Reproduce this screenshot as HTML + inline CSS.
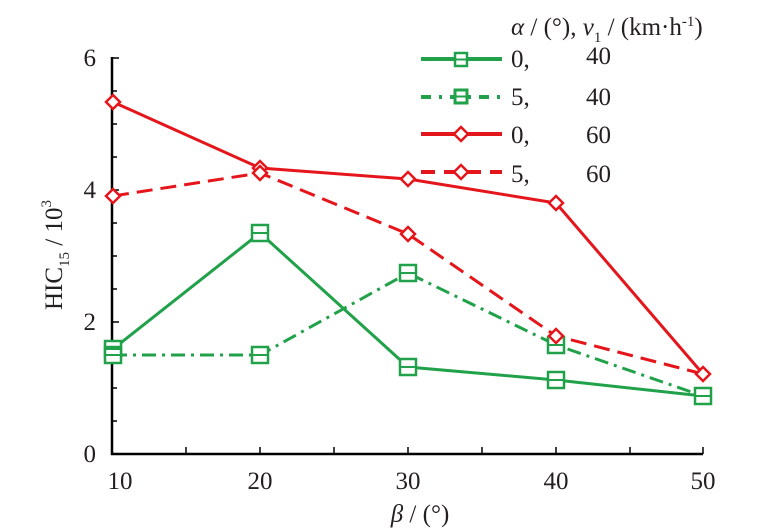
<!DOCTYPE html>
<html><head><meta charset="utf-8"><style>body{margin:0;background:#fff}svg{display:block}text{font-family:"Liberation Serif",serif;fill:#231f20}</style></head><body>
<svg width="763" height="530" viewBox="0 0 763 530">
<g stroke="#000" stroke-width="2.5" fill="none">
<path d="M112,57 V454 H703"/>
</g>
<g stroke="#000" stroke-width="1.5">
<path d="M112,58h7M112,91h5M112,124h5M112,157h5M112,190h7M112,223h5M112,256h5M112,289h5M112,322h7M112,355h5M112,388h5M112,421h5"/>
<path d="M186,454v-7M260,454v-7M334,454v-7M408,454v-7M482,454v-7M556,454v-7M630,454v-7M703,454v-7"/>
</g>
<g font-size="25" text-anchor="end">
<text x="96" y="66">6</text><text x="96" y="198">4</text><text x="96" y="330">2</text><text x="96" y="462">0</text>
</g>
<g font-size="25" text-anchor="middle">
<text x="120" y="489">10</text><text x="260" y="489">20</text><text x="408" y="489">30</text><text x="556" y="489">40</text><text x="703" y="489">50</text>
<text x="420" y="522"><tspan font-style="italic">β</tspan> / (°)</text>
</g>
<text transform="translate(62,255) rotate(-90)" font-size="25" text-anchor="middle">HIC<tspan font-size="15" dy="7">15</tspan><tspan dy="-7"> / 10</tspan><tspan font-size="15" dy="-11">3</tspan></text>
<!-- series -->
<polyline points="113,349 260,233 408,367 556,380 703,396" fill="none" stroke="#21a24a" stroke-width="3"/>
<polyline points="113,355 260,355 408,273 556,345 703,396" fill="none" stroke="#21a24a" stroke-width="3" stroke-dasharray="14,6,3,6"/>
<polyline points="113,102 260,168 408,179 556,203 703,374" fill="none" stroke="#e5161b" stroke-width="3"/>
<polyline points="113,196 260,173 408,234 556,336 703,374" fill="none" stroke="#e5161b" stroke-width="3" stroke-dasharray="16,8"/>
<g fill="#fff" stroke="#21a24a" stroke-width="2.5">
<rect x="105" y="341" width="16" height="16"/><rect x="105" y="347" width="16" height="16"/>
<rect x="252" y="225" width="16" height="16"/><rect x="252" y="347" width="16" height="16"/>
<rect x="400" y="359" width="16" height="16"/><rect x="400" y="265" width="16" height="16"/>
<rect x="548" y="372" width="16" height="16"/><rect x="548" y="337" width="16" height="16"/>
<rect x="695" y="388" width="16" height="16"/>
</g>
<g stroke="#21a24a" stroke-width="2">
<path d="M105,349h16M105,355h16M252,233h16M252,355h16M400,367h16M400,273h16M548,380h16M548,345h16M695,396h16"/>
</g>
<g fill="#fff" stroke="#e5161b" stroke-width="2.5">
<path d="M113,95l7,7l-7,7l-7,-7z M260,161l7,7l-7,7l-7,-7z M408,172l7,7l-7,7l-7,-7z M556,196l7,7l-7,7l-7,-7z M703,367l7,7l-7,7l-7,-7z"/>
<path d="M113,189l7,7l-7,7l-7,-7z M260,166l7,7l-7,7l-7,-7z M408,227l7,7l-7,7l-7,-7z M556,329l7,7l-7,7l-7,-7z"/>
</g>
<!-- legend -->
<line x1="421" y1="59" x2="502" y2="59" stroke="#21a24a" stroke-width="4"/>
<rect x="455" y="53" width="12" height="13" fill="#fff" stroke="#21a24a" stroke-width="2.5"/>
<line x1="455" y1="59.5" x2="467" y2="59.5" stroke="#21a24a" stroke-width="2"/>
<line x1="421" y1="97" x2="502" y2="97" stroke="#21a24a" stroke-width="4" stroke-dasharray="10,8,3,8"/>
<rect x="455" y="90" width="12" height="13" fill="#fff" stroke="#21a24a" stroke-width="3"/>
<line x1="455" y1="96.5" x2="467" y2="96.5" stroke="#21a24a" stroke-width="2"/>
<line x1="421" y1="134" x2="502" y2="134" stroke="#e5161b" stroke-width="4"/>
<path d="M461,127l7,7l-7,7l-7,-7z" fill="#fff" stroke="#e5161b" stroke-width="2.5"/>
<line x1="421" y1="172" x2="502" y2="172" stroke="#e5161b" stroke-width="4" stroke-dasharray="14,9"/>
<path d="M461,165l7,7l-7,7l-7,-7z" fill="#fff" stroke="#e5161b" stroke-width="2.5"/>
<g font-size="25">
<text x="511" y="35"><tspan font-style="italic">α</tspan> / (°), <tspan font-style="italic">v</tspan><tspan font-size="15" dy="7">1</tspan><tspan dy="-7"> / (km·h</tspan><tspan font-size="15" dy="-9">-1</tspan><tspan dy="9">)</tspan></text>
<text x="511" y="67">0,</text><text x="586" y="64">40</text>
<text x="511" y="105">5,</text><text x="586" y="105">40</text>
<text x="511" y="143">0,</text><text x="586" y="143">60</text>
<text x="511" y="182">5,</text><text x="586" y="182">60</text>
</g>
</svg>
</body></html>
